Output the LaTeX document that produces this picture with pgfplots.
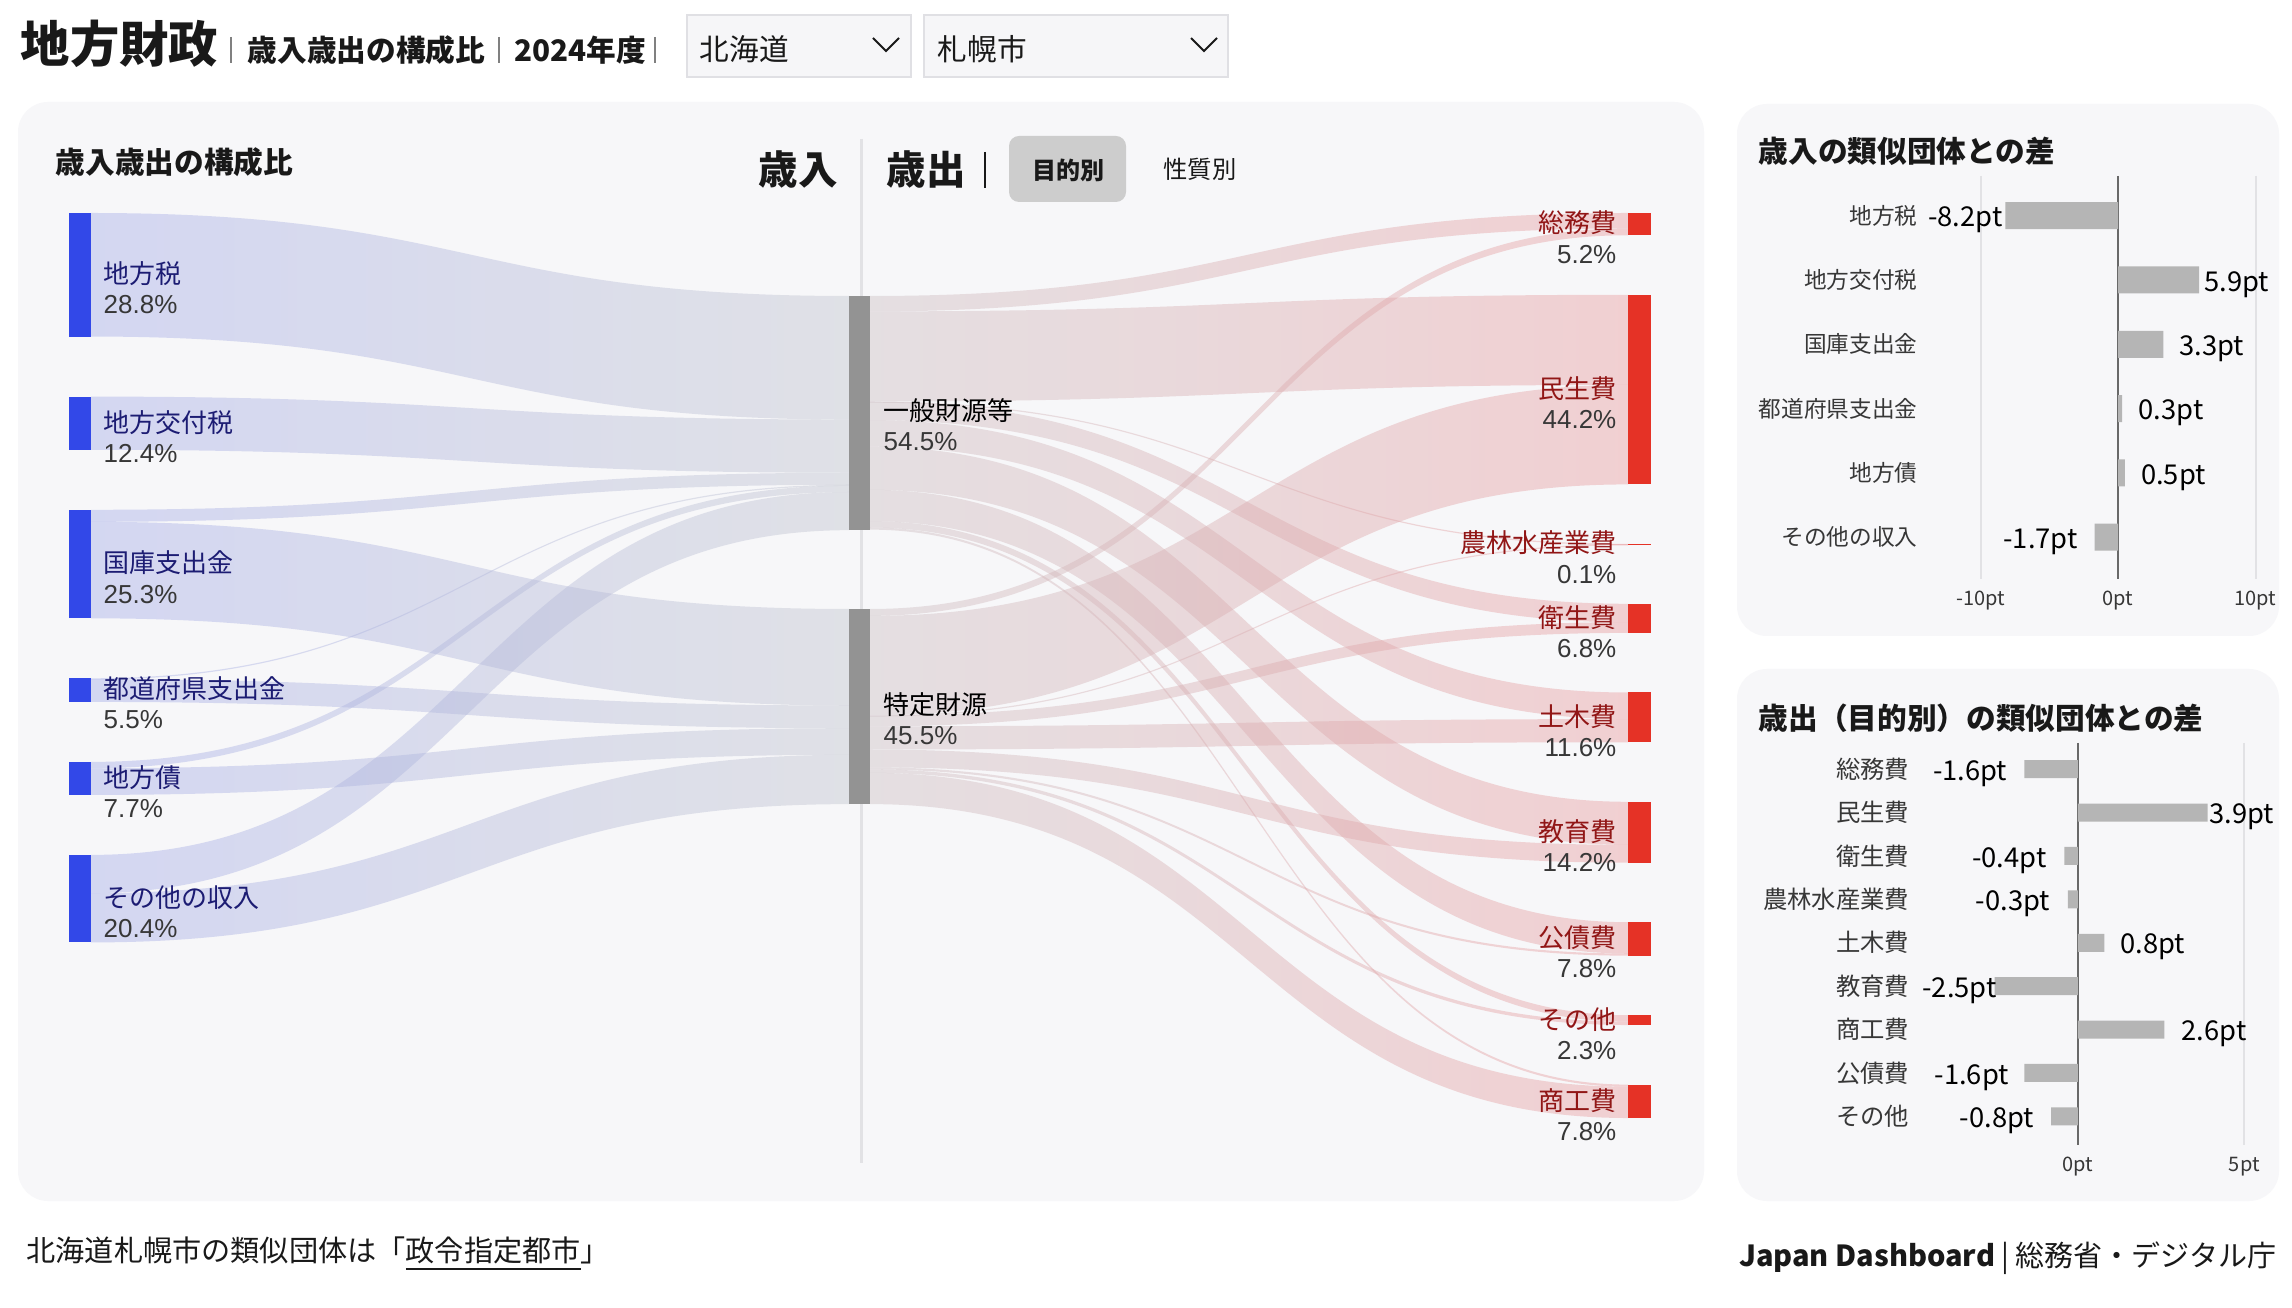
\documentclass[border=0pt]{standalone}
\usepackage{pgfplots}
\pgfplotsset{compat=1.18}
\usepackage{pgfplotstable}
\usepackage{fontspec}
\setmainfont{Noto Sans CJK JP}
\newfontfamily\numfont{Liberation Sans}

\definecolor{panelbg}{RGB}{247,247,249}
\definecolor{nodeblue}{RGB}{50,72,232}
\definecolor{nodegray}{RGB}{147,147,147}
\definecolor{nodered}{RGB}{229,50,38}
\definecolor{lsrc}{RGB}{163,171,232}
\definecolor{lmid}{RGB}{192,195,206}
\definecolor{rmid}{RGB}{204,190,194}
\definecolor{rtgt}{RGB}{233,154,156}
\definecolor{navytxt}{RGB}{28,28,115}
\definecolor{redtxt}{RGB}{145,22,22}
\definecolor{pcttxt}{RGB}{55,55,55}
\definecolor{darktxt}{RGB}{25,25,25}
\definecolor{barg}{RGB}{181,181,181}
\definecolor{gridc}{RGB}{226,226,229}
\definecolor{zeroc}{RGB}{105,105,105}
\definecolor{divc}{RGB}{226,226,229}
\definecolor{btnc}{RGB}{205,205,205}
\definecolor{ddbg}{RGB}{246,246,248}
\definecolor{ddbd}{RGB}{224,224,228}

\newcommand\kk{4.29}

% ---- Sankey nodes: name, share (%), top (px) ----
\pgfplotstableread{
name pct top
地方税 28.8 213.0
地方交付税 12.4 396.6
国庫支出金 25.3 509.8
都道府県支出金 5.5 678.3
地方債 7.7 761.9
その他の収入 20.4 854.9
}\leftnodes
\pgfplotstableread{
name pct top
一般財源等 54.5 296.0
特定財源 45.5 609.0
}\midnodes
\pgfplotstableread{
name pct top
総務費 5.2 213.0
民生費 44.2 294.8
農林水産業費 0.1 543.9
衛生費 6.8 603.8
土木費 11.6 692.5
教育費 14.2 801.8
公債費 7.8 922.2
その他 2.3 1015.2
商工費 7.8 1084.6
}\rightnodes
% ---- flows: top at source, top at target (px), value (%) ----
\pgfplotstableread{
y0 y1 v
213.0 296.0 28.8
396.6 419.55 12.4
509.8 472.75 2.8
678.3 484.75 0.2
761.9 485.6 1.5
854.9 492.0 8.9
521.8 609.0 22.5
679.2 705.5 5.3
768.3 728.2 6.2
893.1 754.8 11.5
}\flowsL
\pgfplotstableread{
y0 y1 v
296.0 213.0 3.6
311.4 294.8 21.0
401.5 543.9 0.05
401.7 603.8 4.3
420.1 692.5 6.2
446.7 801.8 10.05
489.8 922.2 7.3
521.1 1015.2 1.5
527.5 1084.6 0.5
609.0 228.4 1.6
615.9 384.9 23.2
715.4 544.1 0.05
715.6 622.2 2.5
726.3 719.1 5.4
749.5 844.9 4.15
767.3 953.5 0.5
769.4 1021.6 0.8
772.8 1086.7 7.3
}\flowsR
% ---- difference bar charts ----
\pgfplotstableread{
y val
0 -8.2
1 5.9
2 3.3
3 0.3
4 0.5
5 -1.7
}\revdiff
\pgfplotstableread{
y labx lab
0 -8.36 {-8.2pt}
5 -2.89 {-1.7pt}
}\revlabE
\pgfplotstableread{
y labx lab
1 6.24 {5.9pt}
2 4.41 {3.3pt}
3 1.45 {0.3pt}
4 1.63 {0.5pt}
}\revlabW
\pgfplotstableread{
y val
0 -1.6
1 3.9
2 -0.4
3 -0.3
4 0.8
5 -2.5
6 2.6
7 -1.6
8 -0.8
}\expdiff
\pgfplotstableread{
y labx lab
0 -2.10 {-1.6pt}
2 -0.92 {-0.4pt}
3 -0.81 {-0.3pt}
5 -2.42 {-2.5pt}
7 -2.05 {-1.6pt}
8 -1.29 {-0.8pt}
}\explabE
\pgfplotstableread{
y labx lab
1 3.93 {3.9pt}
4 1.26 {0.8pt}
6 3.10 {2.6pt}
}\explabW

\tikzset{
  lname/.style={font=\fontsize{7.8pt}{9pt}\selectfont, text=navytxt, anchor=west, inner sep=0pt},
  lpct/.style={font=\numfont\fontsize{7.8pt}{9pt}\selectfont, text=pcttxt, anchor=west, inner sep=0pt},
  mname/.style={font=\fontsize{7.8pt}{9pt}\selectfont, text=black, anchor=west, inner sep=0pt},
  rname/.style={font=\fontsize{7.8pt}{9pt}\selectfont, text=redtxt, anchor=east, inner sep=0pt},
  rpct/.style={font=\numfont\fontsize{7.8pt}{9pt}\selectfont, text=pcttxt, anchor=east, inner sep=0pt},
}
\pgfplotsset{
  vallab/.style={draw=none, mark=none, nodes near coords, point meta=explicit symbolic,
    every node near coord/.append style={anchor=#1, inner sep=0pt, yshift=-1.3pt, font=\fontsize{8.2pt}{9pt}\selectfont, text=black}},
}

\begin{document}
\begin{tikzpicture}
\begin{axis}[at={(0pt,0pt)}, anchor=south west, scale only axis,
  width=687.6pt, height=392.4pt,
  xmin=0, xmax=2292, ymin=0, ymax=1308, y dir=reverse, hide axis, clip=false]
\fill[white] (axis cs:0,0) rectangle (axis cs:2292,1308);
% panels
\fill[panelbg, rounded corners=9pt] (axis cs:18,102) rectangle (axis cs:1704,1201);
\fill[panelbg, rounded corners=9pt] (axis cs:1737,104) rectangle (axis cs:2279,636);
\fill[panelbg, rounded corners=9pt] (axis cs:1737,669) rectangle (axis cs:2279,1201);
% header
\node[anchor=west, inner sep=0pt, font=\fontsize{14.8pt}{16pt}\selectfont\bfseries, text=darktxt] at (axis cs:20,44) {地方財政};
\draw[gray, line width=0.45pt] (axis cs:231,37) -- (axis cs:231,63);
\node[anchor=west, inner sep=0pt, font=\fontsize{8.9pt}{10pt}\selectfont\bfseries, text=darktxt] at (axis cs:247,50) {歳入歳出の構成比};
\draw[gray, line width=0.45pt] (axis cs:499,37) -- (axis cs:499,63);
\node[anchor=west, inner sep=0pt, font=\fontsize{8.9pt}{10pt}\selectfont\bfseries, text=darktxt] at (axis cs:514,50) {2024年度};
\draw[gray, line width=0.45pt] (axis cs:655,37) -- (axis cs:655,63);
\filldraw[fill=ddbg, draw=ddbd, line width=0.6pt] (axis cs:687,15) rectangle (axis cs:911,77);
\filldraw[fill=ddbg, draw=ddbd, line width=0.6pt] (axis cs:924,15) rectangle (axis cs:1228,77);
\node[anchor=west, inner sep=0pt, font=\fontsize{8.9pt}{10pt}\selectfont, text=darktxt] at (axis cs:699,49) {北海道};
\node[anchor=west, inner sep=0pt, font=\fontsize{8.9pt}{10pt}\selectfont, text=darktxt] at (axis cs:937,49) {札幌市};
\draw[darktxt, line width=0.6pt] (axis cs:873,38) -- (axis cs:886,51) -- (axis cs:899,38);
\draw[darktxt, line width=0.6pt] (axis cs:1191,38) -- (axis cs:1204,51) -- (axis cs:1217,38);
% main panel headings
\node[anchor=west, inner sep=0pt, font=\fontsize{8.9pt}{10pt}\selectfont\bfseries, text=darktxt] at (axis cs:55,162) {歳入歳出の構成比};
\node[anchor=west, inner sep=0pt, font=\fontsize{11.85pt}{13pt}\selectfont\bfseries, text=darktxt] at (axis cs:758,170) {歳入};
\node[anchor=west, inner sep=0pt, font=\fontsize{11.85pt}{13pt}\selectfont\bfseries, text=darktxt] at (axis cs:886,170) {歳出};
\draw[darktxt, line width=0.6pt] (axis cs:985,152) -- (axis cs:985,188);
\fill[btnc, rounded corners=3pt] (axis cs:1009,136) rectangle (axis cs:1126,202);
\node[inner sep=0pt, font=\fontsize{7.2pt}{8pt}\selectfont\bfseries, text=darktxt] at (axis cs:1068,170) {目的別};
\node[inner sep=0pt, font=\fontsize{7.3pt}{8pt}\selectfont, text=darktxt] at (axis cs:1200,169) {性質別};
\draw[divc, line width=0.9pt] (axis cs:861,139) -- (axis cs:861,1163);
% bar-chart titles
\node[anchor=west, inner sep=0pt, font=\fontsize{8.9pt}{10pt}\selectfont\bfseries, text=darktxt] at (axis cs:1758,151) {歳入の類似団体との差};
\node[anchor=west, inner sep=0pt, font=\fontsize{8.9pt}{10pt}\selectfont\bfseries, text=darktxt] at (axis cs:1758,718) {歳出（目的別）の類似団体との差};
% footer
\node[anchor=west, inner sep=0pt, font=\fontsize{8.75pt}{10pt}\selectfont, text=darktxt] at (axis cs:26,1254) {北海道札幌市の類似団体は「\underline{政令指定都市}」};
\node[anchor=east, inner sep=0pt, font=\fontsize{8.7pt}{10pt}\selectfont, text=darktxt] at (axis cs:2277,1258) {\textbf{Japan Dashboard} | 総務省・デジタル庁};

% ---- flows: revenue -> fund type ----
\pgfplotstablegetrowsof{\flowsL}\pgfmathtruncatemacro\nrows{\pgfplotsretval-1}
\pgfplotsforeachungrouped \i in {0,...,\nrows}{%
  \pgfplotstablegetelem{\i}{y0}\of\flowsL \let\ya\pgfplotsretval
  \pgfplotstablegetelem{\i}{y1}\of\flowsL \let\yb\pgfplotsretval
  \pgfplotstablegetelem{\i}{v}\of\flowsL \let\vv\pgfplotsretval
  \pgfmathsetmacro\tk{max(\vv*\kk,1.2)}%
  \pgfmathsetmacro\yc{\ya+\tk}%
  \pgfmathsetmacro\yd{\yb+\tk}%
  \edef\doit{\noexpand\shade[left color=lsrc, right color=lmid, opacity=0.42]
    (axis cs:91,\ya) .. controls (axis cs:470,\ya) and (axis cs:470,\yb) .. (axis cs:849,\yb)
    -- (axis cs:849,\yd) .. controls (axis cs:470,\yd) and (axis cs:470,\yc) .. (axis cs:91,\yc) -- cycle;}%
  \doit
}
% ---- flows: fund type -> expenditure ----
\pgfplotstablegetrowsof{\flowsR}\pgfmathtruncatemacro\nrows{\pgfplotsretval-1}
\pgfplotsforeachungrouped \i in {0,...,\nrows}{%
  \pgfplotstablegetelem{\i}{y0}\of\flowsR \let\ya\pgfplotsretval
  \pgfplotstablegetelem{\i}{y1}\of\flowsR \let\yb\pgfplotsretval
  \pgfplotstablegetelem{\i}{v}\of\flowsR \let\vv\pgfplotsretval
  \pgfmathsetmacro\tk{max(\vv*\kk,1.2)}%
  \pgfmathsetmacro\yc{\ya+\tk}%
  \pgfmathsetmacro\yd{\yb+\tk}%
  \edef\doit{\noexpand\shade[left color=rmid, right color=rtgt, opacity=0.42]
    (axis cs:870,\ya) .. controls (axis cs:1249,\ya) and (axis cs:1249,\yb) .. (axis cs:1628,\yb)
    -- (axis cs:1628,\yd) .. controls (axis cs:1249,\yd) and (axis cs:1249,\yc) .. (axis cs:870,\yc) -- cycle;}%
  \doit
}
% ---- nodes ----
\pgfplotstablegetrowsof{\leftnodes}\pgfmathtruncatemacro\nrows{\pgfplotsretval-1}
\pgfplotsforeachungrouped \i in {0,...,\nrows}{%
  \pgfplotstablegetelem{\i}{name}\of\leftnodes \let\nm\pgfplotsretval
  \pgfplotstablegetelem{\i}{pct}\of\leftnodes \let\pc\pgfplotsretval
  \pgfplotstablegetelem{\i}{top}\of\leftnodes \let\tp\pgfplotsretval
  \pgfmathsetmacro\bt{\tp+max(\pc*\kk,1.5)}%
  \pgfmathsetmacro\ct{\tp+\pc*\kk/2-1}%
  \pgfmathsetmacro\ctb{\ct+31}%
  \edef\doit{\noexpand\fill[nodeblue] (axis cs:69,\tp) rectangle (axis cs:91,\bt);
    \noexpand\node[lname] at (axis cs:103,\ct) {\nm};
    \noexpand\node[lpct] at (axis cs:103,\ctb) {\pc\noexpand\%};}%
  \doit
}
\pgfplotstablegetrowsof{\midnodes}\pgfmathtruncatemacro\nrows{\pgfplotsretval-1}
\pgfplotsforeachungrouped \i in {0,...,\nrows}{%
  \pgfplotstablegetelem{\i}{name}\of\midnodes \let\nm\pgfplotsretval
  \pgfplotstablegetelem{\i}{pct}\of\midnodes \let\pc\pgfplotsretval
  \pgfplotstablegetelem{\i}{top}\of\midnodes \let\tp\pgfplotsretval
  \pgfmathsetmacro\bt{\tp+\pc*\kk}%
  \pgfmathsetmacro\ct{\tp+\pc*\kk/2-2}%
  \pgfmathsetmacro\ctb{\ct+31}%
  \edef\doit{\noexpand\fill[nodegray] (axis cs:849,\tp) rectangle (axis cs:870,\bt);
    \noexpand\node[mname] at (axis cs:883,\ct) {\nm};
    \noexpand\node[lpct] at (axis cs:883,\ctb) {\pc\noexpand\%};}%
  \doit
}
\pgfplotstablegetrowsof{\rightnodes}\pgfmathtruncatemacro\nrows{\pgfplotsretval-1}
\pgfplotsforeachungrouped \i in {0,...,\nrows}{%
  \pgfplotstablegetelem{\i}{name}\of\rightnodes \let\nm\pgfplotsretval
  \pgfplotstablegetelem{\i}{pct}\of\rightnodes \let\pc\pgfplotsretval
  \pgfplotstablegetelem{\i}{top}\of\rightnodes \let\tp\pgfplotsretval
  \pgfmathsetmacro\bt{\tp+max(\pc*\kk,1.5)}%
  \pgfmathsetmacro\ct{\tp+\pc*\kk/2-1}%
  \pgfmathsetmacro\ctb{\ct+31}%
  \edef\doit{\noexpand\fill[nodered] (axis cs:1628,\tp) rectangle (axis cs:1651,\bt);
    \noexpand\node[rname] at (axis cs:1617,\ct) {\nm};
    \noexpand\node[rpct] at (axis cs:1617,\ctb) {\pc\noexpand\%};}%
  \doit
}
\end{axis}

% ---- revenue difference chart ----
\begin{axis}[at={(575.4pt,218.7pt)}, anchor=south west, scale only axis,
  width=101.25pt, height=120.9pt,
  xmin=-14.55, xmax=10, ymin=-0.617, ymax=5.65, y dir=reverse, clip=false,
  axis line style={draw=none}, major tick length=0pt,
  xtick={-10,10}, xticklabels={-10pt,10pt},
  extra x ticks={0}, extra x tick labels={0pt},
  xmajorgrids, major grid style={draw=gridc, line width=0.6pt},
  extra x tick style={major grid style={draw=zeroc, line width=0.6pt}},
  ytick={0,1,2,3,4,5},
  yticklabels={地方税,地方交付税,国庫支出金,都道府県支出金,地方債,その他の収入},
  yticklabel style={font=\fontsize{6.8pt}{8pt}\selectfont, text=pcttxt, inner xsep=0pt, anchor=east},
  xticklabel style={font=\fontsize{6pt}{7pt}\selectfont, text=pcttxt},
]
\addplot[xbar, bar width=8.1pt, fill=barg, draw=none] table[x=val,y=y]{\revdiff};
\addplot[vallab=east] table[x=labx,y=y,meta=lab]{\revlabE};
\addplot[vallab=west] table[x=labx,y=y,meta=lab]{\revlabW};
\end{axis}

% ---- expenditure difference chart ----
\begin{axis}[at={(572.97pt,48.9pt)}, anchor=south west, scale only axis,
  width=100.3pt, height=120.66pt,
  xmin=-5.04, xmax=5, ymin=-0.608, ymax=8.66, y dir=reverse, clip=false,
  axis line style={draw=none}, major tick length=0pt,
  xtick={5}, xticklabels={5pt},
  extra x ticks={0}, extra x tick labels={0pt},
  xmajorgrids, major grid style={draw=gridc, line width=0.6pt},
  extra x tick style={major grid style={draw=zeroc, line width=0.6pt}},
  ytick={0,1,2,3,4,5,6,7,8},
  yticklabels={総務費,民生費,衛生費,農林水産業費,土木費,教育費,商工費,公債費,その他},
  yticklabel style={font=\fontsize{7.3pt}{8pt}\selectfont, text=pcttxt, inner xsep=0pt, anchor=east},
  xticklabel style={font=\fontsize{6pt}{7pt}\selectfont, text=pcttxt},
]
\addplot[xbar, bar width=5.4pt, fill=barg, draw=none] table[x=val,y=y]{\expdiff};
\addplot[vallab=east] table[x=labx,y=y,meta=lab]{\explabE};
\addplot[vallab=west] table[x=labx,y=y,meta=lab]{\explabW};
\end{axis}
\end{tikzpicture}
\end{document}
